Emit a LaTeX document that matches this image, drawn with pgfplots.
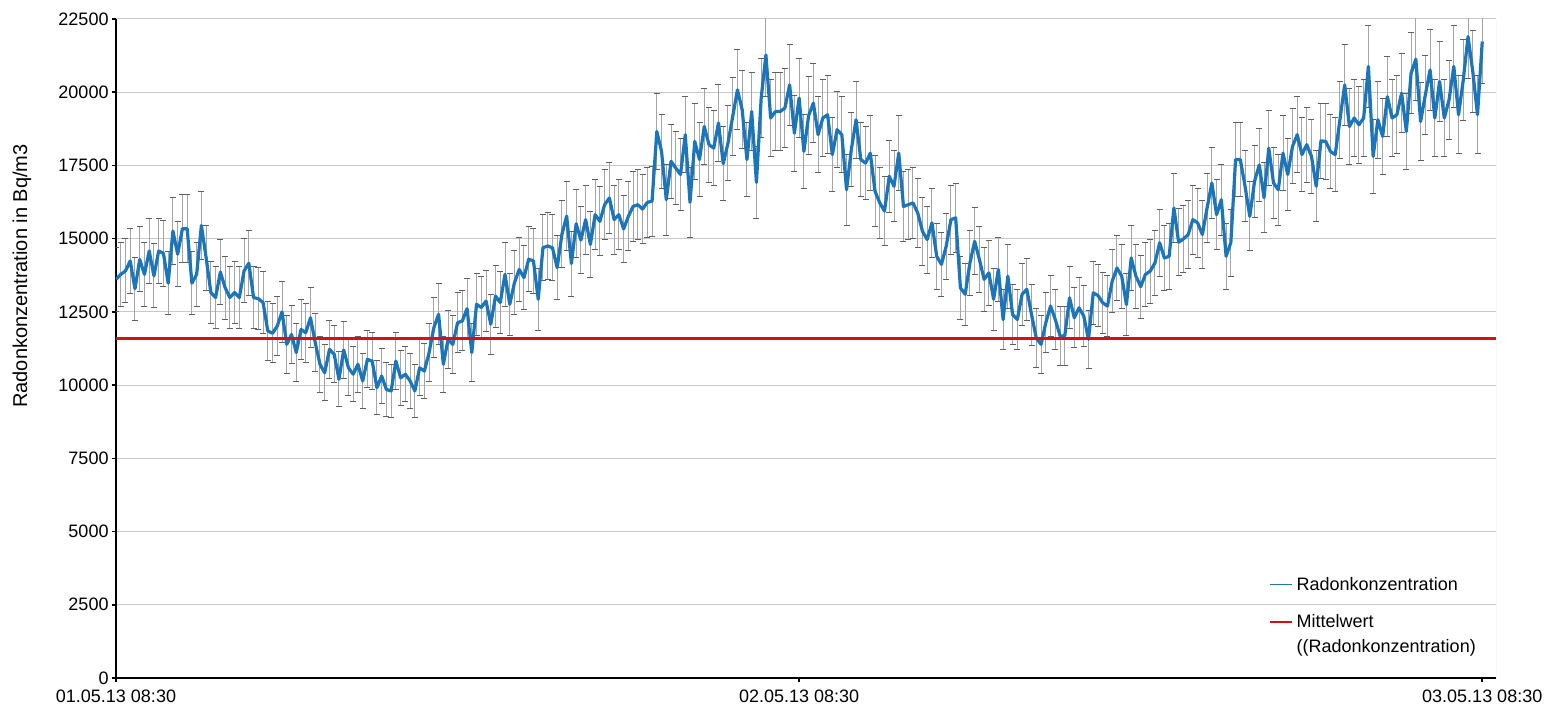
\documentclass[border=0pt]{standalone}
\usepackage{fontspec}
\setmainfont{Liberation Sans}
\usepackage{pgfplots}
\pgfplotsset{compat=1.18}
\usepackage{pgfplotstable}
\definecolor{radblue}{RGB}{26,117,187}
\definecolor{meanred}{RGB}{214,16,24}
\definecolor{errgray}{RGB}{165,165,165}
\definecolor{capgray}{RGB}{95,95,95}
\definecolor{gridgray}{RGB}{200,200,200}
\pgfplotstableread{
i v e
0 13610 1080
1 13780 1090
2 13900 1095
3 14240 1110
4 13290 1070
5 14290 1110
6 13780 1090
7 14580 1125
8 13730 1090
9 14580 1125
10 14500 1125
11 13480 1080
12 15260 1155
13 14470 1120
14 15340 1160
15 15340 1160
16 13480 1080
17 13780 1090
18 15450 1165
19 14350 1115
20 13160 1065
21 12990 1060
22 13860 1095
23 13330 1075
24 12990 1060
25 13160 1065
26 12990 1060
27 13900 1095
28 14160 1110
29 12990 1060
30 12950 1055
31 12820 1050
32 11850 1010
33 11770 1005
34 12020 1015
35 12500 1040
36 11390 990
37 11730 1005
38 11110 980
39 11900 1010
40 11790 1005
41 12300 1030
42 11450 990
43 10710 960
44 10420 950
45 11220 985
46 11050 975
47 10200 940
48 11200 980
49 10590 955
50 10370 945
51 10710 960
52 10140 935
53 10880 970
54 10820 965
55 9910 925
56 10310 945
57 9850 925
58 9800 920
59 10820 965
60 10250 940
61 10370 945
62 10140 935
63 9800 920
64 10590 955
65 10480 950
66 11110 980
67 11960 1015
68 12420 1035
69 10710 960
70 11560 995
71 11390 990
72 12130 1020
73 12190 1025
74 12610 1040
75 11110 980
76 12760 1050
77 12650 1045
78 12870 1055
79 12080 1020
80 13040 1060
81 12820 1050
82 13780 1090
83 12760 1050
84 13500 1080
85 13950 1100
86 13670 1090
87 14300 1115
88 14240 1110
89 12930 1055
90 14690 1130
91 14750 1135
92 14690 1130
93 14010 1100
94 15150 1150
95 15770 1180
96 14150 1110
97 15510 1170
98 14950 1145
99 15650 1175
100 14800 1140
101 15820 1185
102 15590 1175
103 16160 1195
104 16390 1205
105 15650 1175
106 15820 1185
107 15330 1160
108 15760 1180
109 16100 1195
110 16160 1195
111 16010 1190
112 16240 1200
113 16280 1200
114 18660 1300
115 17980 1275
116 16330 1205
117 17640 1260
118 17410 1250
119 17190 1240
120 18550 1300
121 16240 1200
122 18320 1290
123 17700 1260
124 18830 1310
125 18210 1285
126 18090 1280
127 18950 1315
128 17560 1255
129 18260 1285
130 19170 1325
131 20080 1365
132 19400 1335
133 17700 1260
134 19340 1330
135 16920 1225
136 19800 1350
137 21270 1415
138 19120 1320
139 19340 1330
140 19340 1330
141 19460 1335
142 20250 1370
143 18600 1300
144 19800 1350
145 17980 1275
146 19200 1325
147 19630 1345
148 18550 1300
149 19120 1320
150 19230 1325
151 17870 1270
152 18720 1305
153 18550 1300
154 16670 1215
155 18040 1275
156 19060 1320
157 17700 1260
158 17580 1255
159 17920 1270
160 16620 1215
161 16220 1200
162 15940 1185
163 17130 1235
164 16790 1220
165 17920 1270
166 16100 1195
167 16160 1195
168 16220 1200
169 15880 1185
170 15250 1155
171 14970 1145
172 15540 1170
173 14400 1120
174 14120 1105
175 14740 1135
176 15650 1175
177 15710 1180
178 13320 1075
179 13100 1065
180 14170 1110
181 14910 1140
182 14290 1115
183 13610 1085
184 13830 1095
185 12930 1055
186 13950 1100
187 12240 1025
188 13720 1090
189 12410 1035
190 12240 1025
191 13100 1065
192 13270 1070
193 12400 1035
194 11600 1000
195 11390 990
196 12130 1020
197 12700 1045
198 12240 1025
199 11680 1000
200 11680 1000
201 12980 1060
202 12300 1030
203 12640 1045
204 12360 1030
205 11560 995
206 13150 1065
207 13060 1060
208 12810 1050
209 12700 1045
210 13550 1085
211 14000 1100
212 13720 1090
213 12750 1045
214 14340 1115
215 13720 1090
216 13360 1075
217 13780 1090
218 13890 1095
219 14170 1110
220 14860 1140
221 14340 1115
222 14400 1120
223 16050 1190
224 14880 1140
225 14990 1145
226 15140 1150
227 15650 1175
228 15540 1170
229 15140 1150
230 16050 1190
231 16900 1225
232 15820 1185
233 16330 1205
234 14400 1120
235 14860 1140
236 17700 1260
237 17700 1260
238 16790 1220
239 15760 1180
240 16960 1225
241 17520 1255
242 16400 1205
243 18090 1280
244 16900 1225
245 16670 1215
246 17920 1270
247 17190 1240
248 18150 1280
249 18550 1300
250 17870 1270
251 18210 1285
252 17810 1265
253 16790 1220
254 18340 1290
255 18320 1290
256 17980 1275
257 17870 1270
258 19060 1320
259 20250 1370
260 18830 1310
261 19120 1320
262 18890 1310
263 19120 1320
264 20880 1395
265 17810 1265
266 19060 1320
267 18490 1295
268 19850 1355
269 19120 1320
270 19230 1325
271 19970 1360
272 18660 1300
273 20650 1385
274 21130 1410
275 19000 1315
276 19910 1355
277 20760 1390
278 19120 1320
279 20370 1375
280 19120 1320
281 19740 1350
282 20880 1395
283 19230 1325
284 20420 1380
285 21900 1440
286 20710 1390
287 19230 1325
288 21730 1435
}\data
\newcommand{\chartfont}{\fontsize{9}{12.5}\selectfont}
\begin{document}
\begin{tikzpicture}
\useasboundingbox (-58pt,-15pt) rectangle (717.5pt,339pt);
\begin{axis}[
  at={(0pt,0pt)}, anchor=south west, scale only axis,
  width=690pt, height=329.5pt,
  xmin=0, xmax=290.9, ymin=0, ymax=22500,
  axis lines*=left,
  axis line style={black, line width=1pt},
  xtick={0,144,288},
  xticklabels={01.05.13 08:30, 02.05.13 08:30, 03.05.13 08:30},
  ytick={0,2500,...,22500},
  scaled y ticks=false,
  yticklabel style={/pgf/number format/fixed, /pgf/number format/1000 sep={}, /pgf/number format/assume math mode=true, xshift=2pt},
  tick label style={font=\chartfont, black},
  label style={font=\fontsize{8.7}{10}\selectfont},
  ymajorgrids,
  grid style={draw=gridgray, line width=0.5pt},
  tick align=outside, major tick length=2.2pt,
  tick style={black, line width=0.8pt},
  ylabel={Radonkonzentration in Bq/m3},
  every axis y label/.style={at={(axis description cs:-0.0681,0.61)}, rotate=90, anchor=center},
  legend style={at={(0.831,0.165)}, anchor=north west, draw=none, fill=none, font=\chartfont, cells={anchor=base west}, row sep=6.5pt},
  legend image code/.code={\draw[#1, line width=0.75pt] (0pt,3pt) -- (11pt,3pt);},
]
\draw[gridgray, line width=0.5pt] (rel axis cs:1,0) -- (rel axis cs:1,1);
\addplot[forget plot, errgray, draw=none, mark=none,
  error bars/.cd, y dir=both, y explicit,
  error bar style={draw=errgray, line width=0.5pt},
  error mark options={rotate=90, draw=capgray, mark size=1.5pt, line width=0.5pt}]
  table[x=i, y=v, y error=e] {\data};
\addplot[radblue, line width=1.6pt, mark=none, line join=round] table[x=i, y=v] {\data};
\addlegendentry{Radonkonzentration}
\addplot[meanred, line width=1.6pt, mark=none] coordinates {(0,11600) (290.9,11600)};
\addlegendentry{\vtop{\hbox{Mittelwert}\hbox{((Radonkonzentration)}}}
\end{axis}
\end{tikzpicture}
\end{document}
